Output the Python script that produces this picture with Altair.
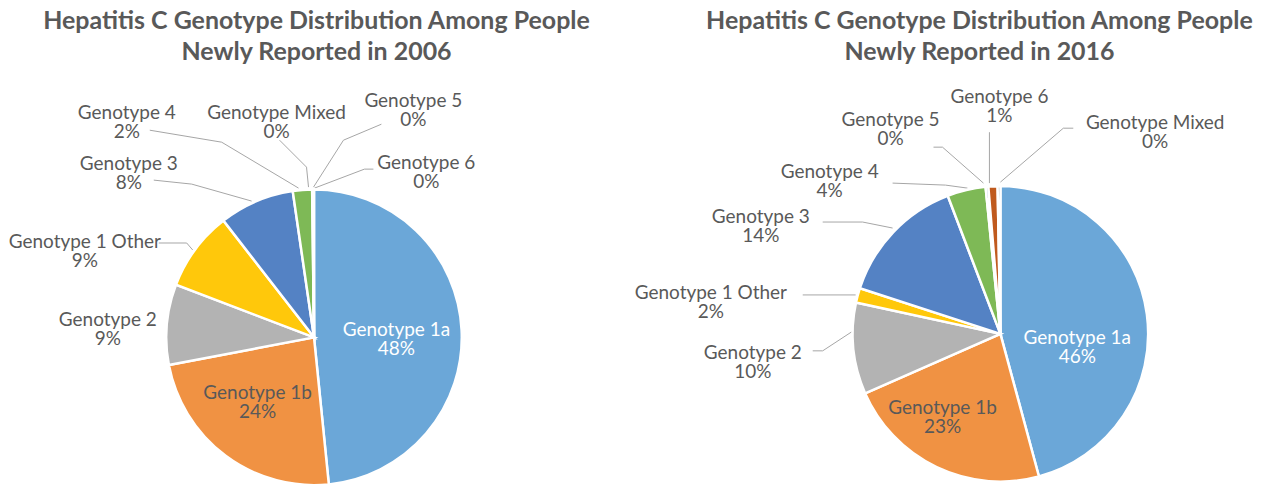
import math
import altair as alt
import pandas as pd

# ---------------- data ----------------
genotypes_2006 = ["Genotype 1a", "Genotype 1b", "Genotype 2", "Genotype 1 Other",
                  "Genotype 3", "Genotype 4", "Genotype Mixed", "Genotype 5", "Genotype 6"]
percent_2006 = [48.4, 23.6, 8.8, 8.7, 8.2, 2.1, 0.1, 0.05, 0.05]

genotypes_2016 = ["Genotype 1a", "Genotype 1b", "Genotype 2", "Genotype 1 Other",
                  "Genotype 3", "Genotype 4", "Genotype 5", "Genotype 6", "Genotype Mixed"]
percent_2016 = [45.8, 22.6, 10.0, 1.6, 14.2, 4.2, 0.3, 1.0, 0.3]

title_2006 = ["Hepatitis C Genotype Distribution Among People", "Newly Reported in 2006"]
title_2016 = ["Hepatitis C Genotype Distribution Among People", "Newly Reported in 2016"]

# ---------------- style / layout ----------------
slice_colors = ["#6BA7D8", "#F09243", "#B3B3B3", "#FFC80B", "#5482C4",
                "#7EB956", "#2A64A0", "#C05A1E", "#6E6E6E"]
TEXT_GRAY = "#595959"
LINE_GRAY = "#A6A6A6"
FONT = "Lato"
LABEL_SIZE = 19
TITLE_SIZE = 25
LINE_GAP = 19

PANEL_W, PANEL_H = 623, 468
RADIUS = 148

# page-coordinate layout (converted to panel coordinates below)
left_layout = dict(
    origin=(8, 8), center=(312.5, 337.5), title_x=315, title_y=(21, 52),
    labels=[(395, 330), (256, 393), (106, 320), (83, 242), (127, 164),
            (125, 113), (275, 113), (412, 101), (425, 163)],
    label_colors=["white"] + [TEXT_GRAY] * 8,
    leaders=[None, None, None,
             [(157, 243), (185, 243), (191, 250)],
             [(152, 180), (190, 184), (250, 201)],
             [(148, 130), (220, 142), (297, 188)],
             [(278, 140), (305, 167), (307, 187)],
             [(380, 124), (342, 140), (312, 187)],
             [(372, 169), (363, 169), (313, 188)]],
)
right_layout = dict(
    origin=(631, 8), center=(1000, 334), title_x=979, title_y=(21, 52),
    labels=[(1077, 338), (942, 408), (752, 353), (710, 293), (760, 217),
            (829, 172), (890, 120), (999, 97), (1155, 123)],
    label_colors=["white"] + [TEXT_GRAY] * 8,
    leaders=[None, None,
             [(812, 351), (822, 351), (851, 332)],
             [(802, 295), (855, 295)],
             [(822, 222), (862, 222), (892, 228)],
             [(892, 183), (945, 185), (967, 188)],
             [(933, 147), (942, 147), (983, 183)],
             [(989, 132), (989, 183)],
             [(1073, 128), (1063, 128), (1000, 182)]],
)


def panel(genos, vals, title_lines, lay):
    ox, oy = lay["origin"]
    cx, cy = lay["center"][0] - ox, lay["center"][1] - oy

    xs = alt.Scale(domain=[0, PANEL_W], range=[0, PANEL_W], nice=False, zero=False)
    ys = alt.Scale(domain=[0, PANEL_H], range=[0, PANEL_H], nice=False, zero=False)

    slices = pd.DataFrame({"genotype": genos, "value": vals, "idx": list(range(len(genos)))})

    pie = alt.Chart(slices).mark_arc(outerRadius=RADIUS, stroke="white", strokeWidth=2.5).encode(
        theta=alt.Theta("value:Q", stack=True),
        color=alt.Color("idx:N", scale=alt.Scale(domain=list(range(len(genos))),
                                                  range=slice_colors[:len(genos)]), legend=None),
        order=alt.Order("idx:Q"),
        x=alt.value(cx), y=alt.value(cy),
    )

    rows = []
    for i, (g, v) in enumerate(zip(genos, vals)):
        lx, ly = lay["labels"][i]
        col = lay["label_colors"][i]
        rows.append({"x": lx - ox, "y": ly - oy,
                     "t": f"{g}\n{round(v):.0f}%", "c": col})
    labels = pd.DataFrame(rows)

    text = alt.Chart(labels).mark_text(font=FONT, fontSize=LABEL_SIZE, align="center",
                                       baseline="middle", lineBreak="\n",
                                       lineHeight=LINE_GAP).encode(
        x=alt.X("x:Q", scale=xs, axis=None),
        y=alt.Y("y:Q", scale=ys, axis=None),
        text="t:N",
        color=alt.Color("c:N", scale=None),
    )

    lrows = []
    for i, pts in enumerate(lay["leaders"]):
        if pts is None:
            continue
        for k, (px, py) in enumerate(pts):
            lrows.append({"x": px - ox, "y": py - oy, "line": i, "k": k})
    leaders = pd.DataFrame(lrows)
    lines = alt.Chart(leaders).mark_line(color=LINE_GRAY, strokeWidth=1).encode(
        x=alt.X("x:Q", scale=xs, axis=None),
        y=alt.Y("y:Q", scale=ys, axis=None),
        detail="line:N",
        order="k:Q",
    )

    tdf = pd.DataFrame([{"x": lay["title_x"] - ox,
                         "y": lay["title_y"][0] - oy,
                         "t": "\n".join(title_lines)}])
    title = alt.Chart(tdf).mark_text(font=FONT, fontSize=TITLE_SIZE, fontWeight="bold",
                                     color=TEXT_GRAY, align="center", baseline="middle",
                                     lineBreak="\n",
                                     lineHeight=lay["title_y"][1] - lay["title_y"][0]).encode(
        x=alt.X("x:Q", scale=xs, axis=None),
        y=alt.Y("y:Q", scale=ys, axis=None),
        text="t:N",
    )

    return alt.layer(lines, pie, text, title).properties(width=PANEL_W, height=PANEL_H)


left = panel(genotypes_2006, percent_2006, title_2006, left_layout)
right = panel(genotypes_2016, percent_2016, title_2016, right_layout)

chart = alt.hconcat(left, right, spacing=0).properties(padding=0).configure_view(stroke=None)
chart.save("out.html", embed_options={"renderer": "svg", "actions": False})
